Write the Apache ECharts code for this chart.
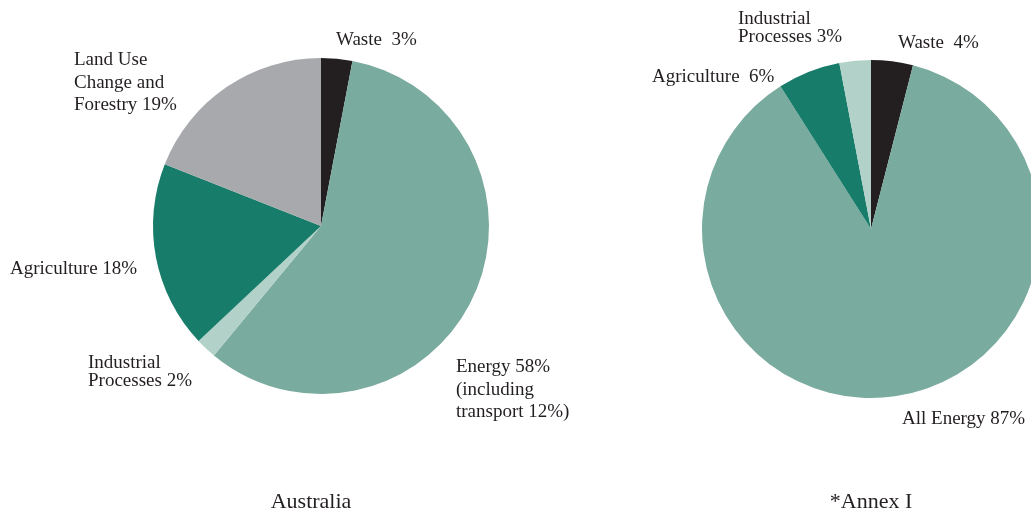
<!DOCTYPE html>
<html>
<head>
<meta charset="utf-8">
<script src="https://cdn.jsdelivr.net/npm/echarts@6/dist/echarts.min.js"></script>
<style>
html,body{margin:0;padding:0;background:#fff;}
#chart{width:1031px;height:514px;}
</style>
</head>
<body>
<div id="chart"></div>
<script>
// Australia
var ausCategories = ['Waste', 'Energy', 'Industrial Processes', 'Agriculture', 'Land Use Change and Forestry'];
var ausValues = [3, 58, 2, 18, 19];
var ausLabels = ['Waste  3%', 'Energy 58%\n(including\ntransport 12%)', 'Industrial\nProcesses 2%', 'Agriculture 18%', 'Land Use\nChange and\nForestry 19%'];

// Annex I
var annexCategories = ['Waste', 'All Energy', 'Agriculture', 'Industrial Processes'];
var annexValues = [4, 87, 6, 3];
var annexLabels = ['Waste  4%', 'All Energy 87%', 'Agriculture  6%', 'Industrial\nProcesses 3%'];

var chartTitles = ['Australia', '*Annex I'];

// styling (separate from data)
var colorMap = {
  'Waste': '#231f20',
  'Energy': '#79ab9e',
  'All Energy': '#79ab9e',
  'Industrial Processes': '#b2d1c8',
  'Agriculture': '#177c6a',
  'Land Use Change and Forestry': '#a7a9ac'
};
// label top-left positions and line heights
var ausLabelPos = [[336, 29, 22], [456, 356, 22.5], [88, 354, 18], [10, 258, 22], [74, 49, 22.5]];
var annexLabelPos = [[898, 32, 22], [902, 408, 22], [652, 66, 22], [738, 10, 18]];

function buildData(cats, vals, labels, pos) {
  return cats.map(function (c, i) {
    return {
      name: c,
      value: vals[i],
      itemStyle: { color: colorMap[c] },
      label: { formatter: labels[i], lineHeight: pos[i][2] }
    };
  });
}

function layoutFor(pos) {
  return function (params) {
    var p = pos[params.dataIndex];
    return { x: p[0], y: p[1], align: 'left', verticalAlign: 'top' };
  };
}

var FONT = '"Liberation Serif", "DejaVu Serif", serif';
var chart = echarts.init(document.getElementById('chart'), null, { renderer: 'canvas' });

var commonSeries = {
  type: 'pie',
  startAngle: 90,
  clockwise: true,
  animation: false,
  silent: true,
  avoidLabelOverlap: false,
  label: { show: true, position: 'outside', overflow: 'none', alignTo: 'none',
           color: '#231f20', fontSize: 19, fontFamily: FONT },
  labelLine: { show: false },
  itemStyle: { borderWidth: 0 },
  emphasis: { disabled: true }
};

chart.setOption({
  backgroundColor: '#ffffff',
  title: [
    { text: chartTitles[0], left: 311, top: 491, textAlign: 'center', padding: 0,
      textStyle: { fontFamily: FONT, fontSize: 22, fontWeight: 'normal', color: '#231f20' } },
    { text: chartTitles[1], left: 871, top: 491, textAlign: 'center', padding: 0,
      textStyle: { fontFamily: FONT, fontSize: 22, fontWeight: 'normal', color: '#231f20' } }
  ],
  series: [
    Object.assign({}, commonSeries, {
      center: [321, 226],
      radius: [0, 168],
      data: buildData(ausCategories, ausValues, ausLabels, ausLabelPos),
      labelLayout: layoutFor(ausLabelPos)
    }),
    Object.assign({}, commonSeries, {
      center: [871, 229],
      radius: [0, 169],
      data: buildData(annexCategories, annexValues, annexLabels, annexLabelPos),
      labelLayout: layoutFor(annexLabelPos)
    })
  ]
});
</script>
</body>
</html>
